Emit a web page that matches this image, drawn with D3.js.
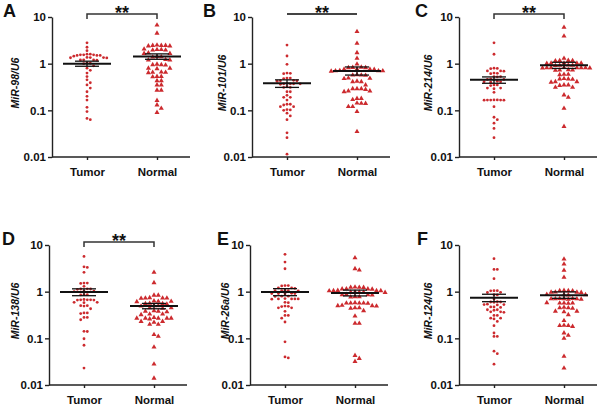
<!DOCTYPE html>
<html lang="en">
<head>
    <meta charset="UTF-8">
    <title>miRNA expression, tumor vs normal</title>
    <script src="https://d3js.org/d3.v7.min.js"></script>
    <style>
        body {
            margin: 0;
            background-color: white;
        }
        svg text {
            font-family: Arial, 'Liberation Sans', sans-serif;
            font-weight: bold;
            fill: #111;
        }
        .axis path, .axis line {
            stroke: #222;
            stroke-width: 1.4px;
        }
        .axis text {
            font-size: 11.5px;
        }
    </style>
</head>
<body>
    <div id="chart"></div>

    <script>
        // Panel info
        const panelLetters = ["A", "B", "C", "D", "E", "F"];
        const yLabels = ["MiR-98/U6", "MiR-101/U6", "MiR-214/U6", "MiR-138/U6", "MiR-26a/U6", "MiR-124/U6"];
        const groups = ["Tumor", "Normal"];
        const yTicks = [0.01, 0.1, 1, 10];
        const yTickLabels = ["0.01", "0.1", "1", "10"];
        const significance = ["**", "**", "**", "**", "", ""];
        const bracketType = ["bracket", "line", "bracket", "bracket", "none", "none"];

        // Values (relative expression)
        const tumorA = [2.8, 2.25, 1.9, 1.6, 1.55, 1.5, 1.55, 1.6, 1.5, 1.45, 1.55, 1.5, 1.35, 1.35, 1.33, 1.36, 1.34, 1.2, 1.2, 1.19, 1.21, 1.02, 1.03, 1.0, 0.9, 0.8, 0.72, 0.63, 0.53, 0.45, 0.39, 0.35, 0.30, 0.25, 0.2, 0.166, 0.116, 0.094, 0.067, 0.063];
        const normalA = [6.7, 4.5, 2.45, 2.45, 2.4, 2.5, 2.45, 2.4, 2.0, 1.95, 2.0, 2.05, 1.95, 1.65, 1.65, 1.7, 1.4, 1.42, 1.38, 1.2, 1.2, 1.22, 0.95, 0.95, 0.93, 0.97, 0.8, 0.8, 0.78, 0.65, 0.66, 0.64, 0.65, 0.53, 0.53, 0.52, 0.43, 0.43, 0.35, 0.35, 0.27, 0.27, 0.163, 0.13, 0.11, 0.09];
        const tumorB = [2.5, 1.46, 0.97, 0.62, 0.61, 0.63, 0.49, 0.48, 0.49, 0.43, 0.43, 0.44, 0.42, 0.37, 0.37, 0.36, 0.38, 0.37, 0.37, 0.31, 0.31, 0.32, 0.25, 0.25, 0.21, 0.19, 0.19, 0.166, 0.135, 0.135, 0.13, 0.12, 0.12, 0.102, 0.1, 0.104, 0.087, 0.076, 0.063, 0.033, 0.026, 0.0115];
        const normalB = [4.85, 2.73, 1.72, 1.3, 0.98, 0.83, 0.82, 0.84, 0.82, 0.76, 0.76, 0.75, 0.77, 0.7, 0.7, 0.69, 0.71, 0.7, 0.57, 0.57, 0.58, 0.56, 0.485, 0.49, 0.48, 0.41, 0.41, 0.42, 0.35, 0.29, 0.29, 0.28, 0.29, 0.26, 0.26, 0.25, 0.18, 0.18, 0.17, 0.141, 0.14, 0.143, 0.12, 0.12, 0.094, 0.035];
        const tumorC = [2.8, 1.59, 0.79, 0.8, 0.78, 0.7, 0.7, 0.69, 0.62, 0.63, 0.61, 0.53, 0.53, 0.52, 0.46, 0.46, 0.47, 0.45, 0.41, 0.41, 0.4, 0.42, 0.35, 0.35, 0.34, 0.3, 0.3, 0.29, 0.243, 0.166, 0.166, 0.165, 0.167, 0.166, 0.165, 0.167, 0.12, 0.071, 0.063, 0.053, 0.041, 0.026];
        const normalC = [6.0, 3.9, 1.3, 1.16, 1.16, 1.15, 1.17, 1.02, 1.02, 1.01, 1.03, 1.02, 0.92, 0.92, 0.91, 0.93, 0.82, 0.82, 0.82, 0.81, 0.83, 0.82, 0.82, 0.81, 0.73, 0.73, 0.72, 0.74, 0.59, 0.59, 0.58, 0.47, 0.47, 0.46, 0.48, 0.41, 0.41, 0.4, 0.35, 0.35, 0.34, 0.31, 0.31, 0.213, 0.19, 0.11, 0.045];
        const tumorD = [5.7, 3.4, 3.3, 2.6, 1.53, 1.53, 1.5, 1.3, 1.14, 1.14, 1.12, 1.15, 1.02, 1.02, 1.0, 0.86, 0.86, 0.85, 0.67, 0.67, 0.66, 0.68, 0.67, 0.66, 0.59, 0.59, 0.58, 0.5, 0.5, 0.49, 0.43, 0.35, 0.35, 0.34, 0.28, 0.28, 0.25, 0.141, 0.14, 0.098, 0.071, 0.023];
        const normalD = [2.6, 1.55, 0.84, 0.84, 0.73, 0.73, 0.72, 0.74, 0.73, 0.62, 0.62, 0.61, 0.63, 0.55, 0.55, 0.54, 0.56, 0.5, 0.5, 0.49, 0.45, 0.45, 0.44, 0.38, 0.38, 0.37, 0.39, 0.33, 0.33, 0.32, 0.27, 0.27, 0.27, 0.26, 0.27, 0.27, 0.28, 0.23, 0.23, 0.22, 0.2, 0.2, 0.12, 0.11, 0.065, 0.028, 0.014];
        const tumorE = [6.3, 4.3, 3.1, 1.35, 1.35, 1.33, 1.2, 1.2, 1.18, 1.05, 1.05, 1.04, 1.06, 1.05, 0.91, 0.91, 0.9, 0.92, 0.91, 0.8, 0.8, 0.79, 0.7, 0.7, 0.69, 0.71, 0.7, 0.7, 0.59, 0.58, 0.485, 0.48, 0.49, 0.45, 0.45, 0.38, 0.31, 0.31, 0.27, 0.224, 0.084, 0.04, 0.038];
        const normalE = [5.3, 3.1, 2.9, 1.24, 1.24, 1.23, 1.25, 1.14, 1.14, 1.13, 1.15, 1.05, 1.05, 1.04, 1.06, 1.05, 0.97, 0.97, 0.96, 0.98, 0.97, 0.86, 0.86, 0.85, 0.87, 0.78, 0.78, 0.77, 0.57, 0.57, 0.56, 0.58, 0.57, 0.57, 0.5, 0.5, 0.49, 0.51, 0.45, 0.45, 0.44, 0.39, 0.3, 0.21, 0.21, 0.043, 0.037, 0.032];
        const tumorF = [5.1, 3.0, 3.0, 1.9, 1.05, 1.05, 1.04, 0.97, 0.96, 0.86, 0.85, 0.7, 0.6, 0.6, 0.59, 0.61, 0.53, 0.53, 0.52, 0.54, 0.47, 0.47, 0.46, 0.41, 0.41, 0.4, 0.37, 0.37, 0.36, 0.31, 0.31, 0.27, 0.27, 0.26, 0.23, 0.187, 0.13, 0.11, 0.11, 0.053, 0.047, 0.028];
        const normalF = [5.0, 3.9, 2.87, 2.03, 1.05, 1.05, 1.04, 1.06, 0.97, 0.97, 0.96, 0.98, 0.86, 0.86, 0.85, 0.87, 0.7, 0.7, 0.69, 0.71, 0.7, 0.7, 0.69, 0.71, 0.57, 0.57, 0.56, 0.58, 0.57, 0.45, 0.45, 0.44, 0.46, 0.38, 0.38, 0.37, 0.32, 0.24, 0.187, 0.187, 0.18, 0.19, 0.13, 0.116, 0.1, 0.041, 0.023];

        const tumorValues = [tumorA, tumorB, tumorC, tumorD, tumorE, tumorF];
        const normalValues = [normalA, normalB, normalC, normalD, normalE, normalF];

        // Mean and SEM bars as drawn
        const tumorMean = [1.0, 0.38, 0.45, 0.98, 0.98, 0.74];
        const tumorSemLow = [0.88, 0.31, 0.38, 0.82, 0.82, 0.61];
        const tumorSemHigh = [1.13, 0.45, 0.52, 1.15, 1.16, 0.88];
        const normalMean = [1.42, 0.70, 0.92, 0.49, 0.94, 0.84];
        const normalSemLow = [1.24, 0.57, 0.79, 0.43, 0.81, 0.72];
        const normalSemHigh = [1.62, 0.85, 1.07, 0.56, 1.08, 0.99];

        // Layout of the six panels
        const axisXs = [52, 252, 459, 49, 250, 459];
        const plotTops = [17, 17, 17, 245, 245, 245];
        const plotH = 140;
        const plotW = 138;
        const letterXs = [3, 203, 415, 2, 217, 417];
        const labelXs = [15, 222, 428, 15, 225, 428];
        const pointColor = "#cc2a2e";

        const svg = d3.select("#chart")
            .append("svg")
            .attr("width", 600)
            .attr("height", 406);

        // simple beeswarm: place each point at the closest free horizontal slot
        function swarm(values, y, cx, step, minDist) {
            const pts = values.map(v => ({ v: v, y: y(v) })).sort((a, b) => a.y - b.y);
            const placed = [];
            pts.forEach(p => {
                for (let k = 0; k < 60; k++) {
                    const off = k === 0 ? 0 : (k % 2 ? 1 : -1) * Math.ceil(k / 2) * step;
                    const free = placed.every(q => Math.hypot(q.x - (cx + off), q.y - p.y) >= minDist);
                    if (free) { p.x = cx + off; break; }
                }
                placed.push(p);
            });
            return placed;
        }

        panelLetters.forEach((letter, i) => {
            const ax = axisXs[i];
            const top = plotTops[i];

            const y = d3.scaleLog()
                .domain([0.01, 10])
                .range([top + plotH, top]);

            const x = d3.scalePoint()
                .domain(groups)
                .range([ax + 35, ax + 105]);

            const g = svg.append("g");

            // y axis
            g.append("g")
                .attr("class", "axis")
                .attr("transform", `translate(${ax},0)`)
                .call(d3.axisLeft(y)
                    .tickValues(yTicks)
                    .tickFormat((d, j) => yTickLabels[j])
                    .tickSize(4)
                    .tickPadding(2)
                    .tickSizeOuter(0));

            // x axis
            g.append("line")
                .attr("x1", ax).attr("x2", ax + plotW)
                .attr("y1", top + plotH).attr("y2", top + plotH)
                .attr("stroke", "#222")
                .attr("stroke-width", 1.4);

            const xAxis = g.append("g")
                .attr("class", "axis")
                .attr("transform", `translate(0,${top + plotH})`)
                .call(d3.axisBottom(x).tickSize(3).tickPadding(8));
            xAxis.select(".domain").remove();

            // panel letter
            g.append("text")
                .attr("x", letterXs[i])
                .attr("y", top)
                .style("font-size", "18px")
                .text(letter);

            // y label
            g.append("text")
                .attr("transform", `translate(${labelXs[i]},${top + plotH / 2 - 4}) rotate(-90)`)
                .attr("text-anchor", "middle")
                .attr("dy", "0.35em")
                .style("font-size", "10.5px")
                .style("font-style", "italic")
                .text(yLabels[i]);

            // points
            const tumorPts = swarm(tumorValues[i], y, x("Tumor"), 3.3, 3.2);
            const normalPts = swarm(normalValues[i], y, x("Normal"), 4.3, 4.1);

            g.selectAll(".tumor")
                .data(tumorPts)
                .enter()
                .append("circle")
                .attr("class", "tumor")
                .attr("cx", d => d.x)
                .attr("cy", d => d.y)
                .attr("r", 1.4)
                .attr("fill", pointColor);

            const tri = d3.symbol().type(d3.symbolTriangle).size(11);
            g.selectAll(".normal")
                .data(normalPts)
                .enter()
                .append("path")
                .attr("class", "normal")
                .attr("d", tri)
                .attr("transform", d => `translate(${d.x},${d.y})`)
                .attr("fill", pointColor);

            // mean and SEM
            const stats = [
                { g: "Tumor", mean: tumorMean[i], lo: tumorSemLow[i], hi: tumorSemHigh[i] },
                { g: "Normal", mean: normalMean[i], lo: normalSemLow[i], hi: normalSemHigh[i] }
            ];
            stats.forEach(s => {
                const cx = x(s.g);
                g.append("line")
                    .attr("x1", cx).attr("x2", cx)
                    .attr("y1", y(s.lo)).attr("y2", y(s.hi))
                    .attr("stroke", "#111").attr("stroke-width", 1.3);
                [s.lo, s.hi].forEach(v => {
                    g.append("line")
                        .attr("x1", cx - 12).attr("x2", cx + 12)
                        .attr("y1", y(v)).attr("y2", y(v))
                        .attr("stroke", "#111").attr("stroke-width", 1.3);
                });
                g.append("line")
                    .attr("x1", cx - 24).attr("x2", cx + 24)
                    .attr("y1", y(s.mean)).attr("y2", y(s.mean))
                    .attr("stroke", "#111").attr("stroke-width", 2);
            });

            // significance bracket
            const by = top - 3;
            if (bracketType[i] === "bracket") {
                g.append("path")
                    .attr("d", `M${x("Tumor")},${by + 5}V${by}H${x("Normal")}V${by + 5}`)
                    .attr("fill", "none")
                    .attr("stroke", "#333")
                    .attr("stroke-width", 1.5);
            } else if (bracketType[i] === "line") {
                g.append("line")
                    .attr("x1", x("Tumor")).attr("x2", x("Normal"))
                    .attr("y1", by).attr("y2", by)
                    .attr("stroke", "#444")
                    .attr("stroke-width", 2);
            }
            if (significance[i]) {
                g.append("text")
                    .attr("x", (x("Tumor") + x("Normal")) / 2)
                    .attr("y", top + 2)
                    .attr("text-anchor", "middle")
                    .style("font-size", "18px")
                    .text(significance[i]);
            }
        });
    </script>
</body>
</html>
